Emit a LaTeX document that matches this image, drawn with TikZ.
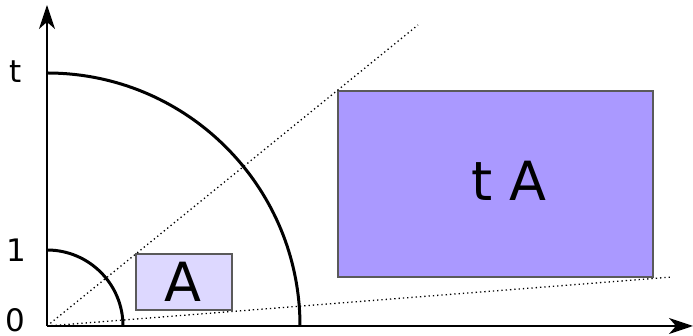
\documentclass[tikz,border=0pt]{standalone}
\usepackage{fontspec}
\setmainfont{DejaVu Sans}
\usetikzlibrary{arrows.meta,positioning}
\definecolor{rectlight}{RGB}{221,216,255}
\definecolor{rectdark}{RGB}{170,153,255}
\definecolor{rectedge}{RGB}{90,90,90}
\tikzset{
  axis/.style={line width=1.9pt, -{Stealth[length=24pt, width=16pt, inset=7pt]}},
  arcln/.style={line width=3pt},
  ray/.style={line width=1.3pt, dash pattern=on 1.3pt off 3pt},
  rectbox/.style={draw=rectedge, line width=2.4pt, inner sep=0pt},
  lbl/.style={font=\fontsize{31}{34}\selectfont, inner sep=0pt},
  biglbl/.style={font=\fontsize{54}{58}\selectfont, inner sep=0pt},
}
\begin{document}
\begin{tikzpicture}[x=1pt, y=1pt]
\useasboundingbox (0,0) rectangle (693,336);
\coordinate (O) at (47,10);
\coordinate (ytop) at (47,331);
\coordinate (xend) at (693,10);
\coordinate (rayup) at (418,311);
\coordinate (raylow) at (672,59);
% rectangles A and tA
\draw[rectbox, fill=rectlight] (136,26) rectangle (232,82);
\draw[rectbox, fill=rectdark] (338,59) rectangle (653,245);
\node[biglbl] (A) at (183,54) {A};
\node[biglbl] (tA) at (509,155) {t A};
% rays through the corners
\draw[ray] (O) -- (rayup);
\draw[ray] (O) -- (raylow);
% quarter circles of radius 1 and t
\draw[arcln] (47,86) arc[start angle=90, end angle=0, radius=76];
\draw[arcln] (47,263) arc[start angle=90, end angle=0, radius=253];
% axes
\draw[axis] (O) -- (ytop);
\draw[axis] (O) -- (xend);
\node[lbl] (lt) at (16,264) {t};
\node[lbl] (l1) at (16,86) {1};
\node[lbl] (l0) at (15,16) {0};
\end{tikzpicture}
\end{document}
